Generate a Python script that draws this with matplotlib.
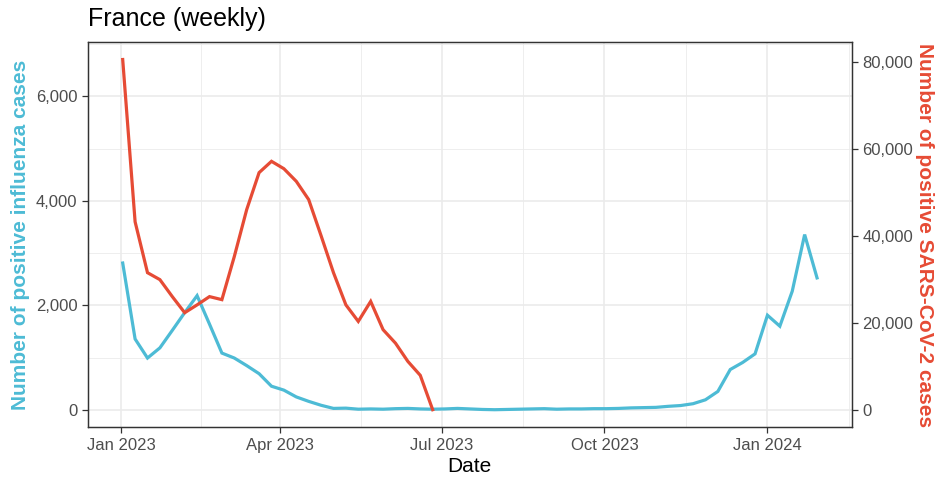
import numpy as np
import pandas as pd
import matplotlib
matplotlib.use("Agg")
import matplotlib.pyplot as plt
import matplotlib.dates as mdates
from matplotlib.ticker import FuncFormatter, MultipleLocator

plt.rcParams['font.family'] = ['Liberation Sans', 'DejaVu Sans']

# Weekly positive tests, France
flu_start = "2023-01-02"
flu_cases = [2810, 1355, 990, 1185, 1520, 1860, 2185, 1640, 1085, 990,
             845, 690, 450, 375, 245, 160, 85, 25, 30, 10,
             15, 10, 20, 25, 15, 10, 15, 25, 15, 5,
             0, 5, 10, 15, 20, 10, 15, 15, 20, 20,
             25, 35, 40, 45, 65, 80, 115, 190, 350, 770,
             905, 1070, 1810, 1600, 2270, 3355, 2525]

covid_start = "2023-01-02"
covid_cases = [80500, 43200, 31500, 29900, 26000, 22300, 24100, 26000, 25300, 35200,
               46000, 54500, 57100, 55400, 52500, 48300, 40000, 31500, 24100, 20300,
               24900, 18400, 15300, 11100, 7900, 0]

flu_dates = pd.date_range(flu_start, periods=len(flu_cases), freq="7D")
covid_dates = pd.date_range(covid_start, periods=len(covid_cases), freq="7D")

BLUE = "#4DBBD5"
RED = "#E64B35"
TXT = "#4D4D4D"
SCALE = 12  # ratio between right and left axis

fig = plt.figure(figsize=(9.36, 4.8), dpi=100)
ax = fig.add_axes([0.094, 0.110, 0.816, 0.8025])
ax2 = ax.twinx()

ax.plot(flu_dates, flu_cases, color=BLUE, lw=2.3, solid_joinstyle='miter')
ax2.plot(covid_dates, covid_cases, color=RED, lw=2.3, solid_joinstyle='miter')

# limits with ggplot-like 5% expansion
span = flu_dates[-1] - flu_dates[0]
ax.set_xlim(flu_dates[0] - span * 0.05, flu_dates[-1] + span * 0.05)
ylo, yhi = -335, 7044
ax.set_ylim(ylo, yhi)
ax2.set_ylim(ylo * SCALE, yhi * SCALE)

ax.xaxis.set_major_locator(mdates.MonthLocator(bymonth=[1, 4, 7, 10]))
ax.xaxis.set_major_formatter(mdates.DateFormatter("%b %Y"))
ax.yaxis.set_major_locator(MultipleLocator(2000))
ax2.yaxis.set_major_locator(MultipleLocator(20000))
fmt = FuncFormatter(lambda v, p: f"{int(v):,}")
ax.yaxis.set_major_formatter(fmt)
ax2.yaxis.set_major_formatter(fmt)

# grid: major + minor (midpoints)
majors = ax.get_xticks()
mids = [(a + b) / 2 for a, b in zip(majors[:-1], majors[1:])]
mids.append(majors[-1] + (majors[-1] - majors[-2]) / 2)
for m in mids:
    ax.axvline(m, color="#EBEBEB", lw=0.6, zorder=0)
for v in majors:
    ax.axvline(v, color="#EBEBEB", lw=1.2, zorder=0)
for v in [1000, 3000, 5000, 7000]:
    ax.axhline(v, color="#EBEBEB", lw=0.6, zorder=0)
for v in [0, 2000, 4000, 6000]:
    ax.axhline(v, color="#EBEBEB", lw=1.2, zorder=0)

for a in (ax, ax2):
    for s in a.spines.values():
        s.set_color("#333333")
        s.set_linewidth(0.9)
    a.tick_params(colors="#333333", labelcolor=TXT, labelsize=12, length=4, width=0.9)

ax.set_xlabel("Date", fontsize=15, color="black", labelpad=3)
ax.set_ylabel("Number of positive influenza cases", fontsize=15, color=BLUE,
              fontweight="bold", labelpad=4)
ax2.set_ylabel("Number of positive SARS-CoV-2 cases", fontsize=15, color=RED,
               fontweight="bold", rotation=270, ha="center", va="center")
ax2.yaxis.set_label_coords(1.0956, 0.5)

fig.text(0.094, 0.96, "France (weekly)", fontsize=18, ha="left", va="center")

fig.savefig("out.png", dpi=100)
